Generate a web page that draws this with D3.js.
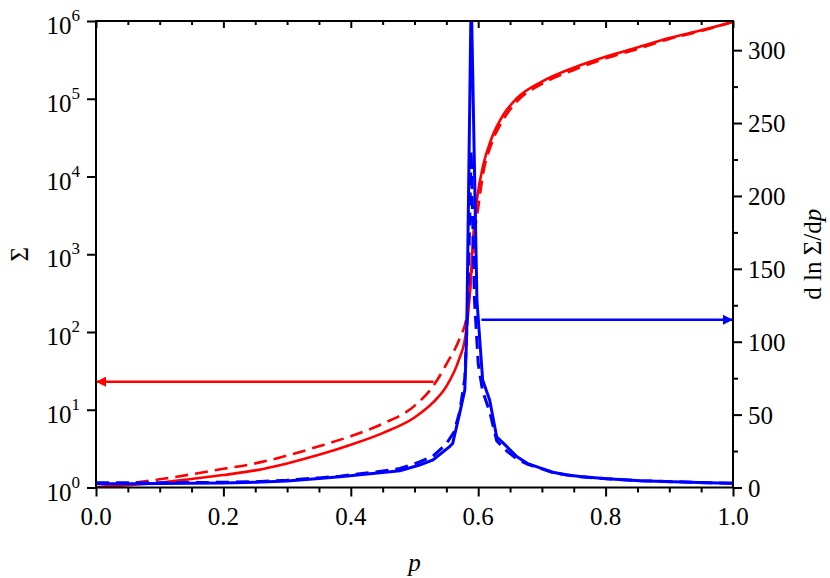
<!DOCTYPE html>
<html>
<head>
<meta charset="utf-8">
<script src="https://cdn.jsdelivr.net/npm/d3@7/dist/d3.min.js"></script>
<style>
  body { margin: 0; background: #fff; }
</style>
</head>
<body>
<div id="chart"></div>
<script>
// p values and Sigma (left, log) for the solid and dashed red curves
const redSolidP = [0, 0.05, 0.1, 0.15, 0.2, 0.25, 0.3, 0.35, 0.4, 0.45, 0.5, 0.53, 0.55, 0.57, 0.58, 0.587, 0.592, 0.598, 0.608, 0.62, 0.64, 0.66, 0.7, 0.75, 0.8, 0.85, 0.9, 0.95, 1.0];
const redSolidLog = [0, 0.03, 0.062, 0.11, 0.16, 0.22, 0.31, 0.42, 0.55, 0.70, 0.90, 1.1, 1.3, 1.65, 1.95, 2.5, 3.2, 3.7, 4.15, 4.47, 4.8, 5.0, 5.22, 5.4, 5.54, 5.66, 5.78, 5.88, 5.99];

const redDashP = [0, 0.05, 0.1, 0.15, 0.2, 0.25, 0.3, 0.35, 0.4, 0.45, 0.5, 0.529, 0.551, 0.571, 0.582, 0.59, 0.595, 0.6, 0.608, 0.62, 0.64, 0.66, 0.7, 0.75, 0.8, 0.85, 0.9, 0.95, 1.0];
const redDashLog = [0, 0.05, 0.105, 0.17, 0.24, 0.31, 0.41, 0.53, 0.66, 0.82, 1.05, 1.3, 1.6, 1.92, 2.2, 2.8, 3.3, 3.6, 4.05, 4.4, 4.74, 4.96, 5.19, 5.37, 5.52, 5.64, 5.77, 5.87, 5.99];

// p values and d ln Sigma / dp (right axis) for the blue curves
const blueSolidP = [0, 0.05, 0.1, 0.15, 0.2, 0.25, 0.3, 0.35, 0.383, 0.43, 0.462, 0.477, 0.508, 0.529, 0.555, 0.56, 0.571, 0.579, 0.582, 0.589, 0.598, 0.607, 0.618, 0.629, 0.645, 0.661, 0.677, 0.697, 0.717, 0.74, 0.76, 0.802, 0.854, 0.906, 0.959, 1.0];
const blueSolidV = [2.5, 2.6, 2.7, 2.9, 3.1, 3.6, 4.5, 6.2, 7.4, 9.5, 10.8, 11.5, 15.4, 18.9, 28, 30.3, 51, 67, 106, 340, 128.6, 73.7, 60, 34.8, 28, 21, 16.6, 13.5, 10.5, 8.6, 7.5, 6.0, 4.7, 4.0, 3.3, 2.9];

const blueDashP = [0, 0.05, 0.1, 0.15, 0.2, 0.25, 0.3, 0.35, 0.383, 0.43, 0.462, 0.477, 0.508, 0.529, 0.55, 0.562, 0.571, 0.579, 0.584, 0.589, 0.594, 0.6, 0.607, 0.618, 0.629, 0.645, 0.661, 0.677, 0.697, 0.717, 0.74, 0.76, 0.802, 0.854, 0.906, 0.959, 1.0];
const blueDashV = [3.2, 3.2, 3.3, 3.4, 3.6, 4.0, 5.0, 6.6, 7.8, 10.2, 12, 13, 17.5, 21.5, 30, 38, 52, 75, 130, 231, 130, 85, 66, 52, 32, 25, 19.5, 16, 13.2, 10.3, 8.5, 7.4, 6.0, 4.7, 4.0, 3.3, 2.9];

// arrows: [pStart, pEnd, value]
const redArrow = [0.53, 0, 23];
const blueArrow = [0.605, 1.0, 115];

const xTicks = [0, 0.2, 0.4, 0.6, 0.8, 1.0];
const leftTicks = [0, 1, 2, 3, 4, 5, 6]; // exponents
const rightTicks = [0, 50, 100, 150, 200, 250, 300];

const W = 830, H = 578;
const plot = { left: 96, right: 733, top: 21, bottom: 487.5 };
const FONT = "'Liberation Serif', 'Times New Roman', Times, serif";

const svg = d3.select("#chart").append("svg")
    .attr("width", W)
    .attr("height", H)
    .attr("font-family", FONT);

svg.append("rect").attr("width", W).attr("height", H).attr("fill", "#fff");

const x = d3.scaleLinear().domain([0, 1]).range([plot.left, plot.right]);
const yL = d3.scaleLog().domain([1, 1e6]).range([plot.bottom, plot.top]);
const yR = d3.scaleLinear().domain([0, 320]).range([plot.bottom, plot.top]);

const defs = svg.append("defs");
defs.append("clipPath").attr("id", "clip")
    .append("rect")
    .attr("x", plot.left).attr("y", plot.top)
    .attr("width", plot.right - plot.left).attr("height", plot.bottom - plot.top);

[["arrRed", "#ff0000"], ["arrBlue", "#0000ff"]].forEach(([id, c]) => {
    defs.append("marker")
        .attr("id", id)
        .attr("viewBox", "0 0 10 10")
        .attr("refX", 10).attr("refY", 5)
        .attr("markerUnits", "userSpaceOnUse")
        .attr("markerWidth", 14).attr("markerHeight", 10)
        .attr("orient", "auto")
        .append("path")
        .attr("d", "M0,0 L10,5 L0,10 Z")
        .attr("fill", c);
});

// axes
function styleAxis(g) {
    g.select(".domain").remove();
    g.selectAll(".tick line").attr("stroke", "#000").attr("stroke-width", 2);
    g.selectAll(".tick text").remove();
}

const xMinor = d3.range(0, 1.0001, 0.05).filter(v => Math.abs(v * 5 - Math.round(v * 5)) > 1e-6);

// bottom
svg.append("g").attr("transform", `translate(0,${plot.bottom})`)
    .call(d3.axisBottom(x).tickValues(xTicks).tickSize(9)).call(styleAxis);
svg.append("g").attr("transform", `translate(0,${plot.bottom})`)
    .call(d3.axisBottom(x).tickValues(xMinor).tickSize(5)).call(styleAxis);
// top (inward)
svg.append("g").attr("transform", `translate(0,${plot.top})`)
    .call(d3.axisBottom(x).tickValues(xTicks).tickSize(7)).call(styleAxis);
svg.append("g").attr("transform", `translate(0,${plot.top})`)
    .call(d3.axisBottom(x).tickValues(xMinor).tickSize(4)).call(styleAxis);
// left
svg.append("g").attr("transform", `translate(${plot.left},0)`)
    .call(d3.axisLeft(yL).tickValues(leftTicks.map(e => Math.pow(10, e))).tickSize(9)).call(styleAxis);
// right
svg.append("g").attr("transform", `translate(${plot.right},0)`)
    .call(d3.axisRight(yR).tickValues(rightTicks).tickSize(9)).call(styleAxis);
svg.append("g").attr("transform", `translate(${plot.right},0)`)
    .call(d3.axisRight(yR).tickValues(d3.range(25, 320, 50)).tickSize(5)).call(styleAxis);

// tick labels
svg.append("g").selectAll("text").data(xTicks).join("text")
    .attr("x", d => x(d)).attr("y", plot.bottom + 37)
    .attr("text-anchor", "middle").attr("font-size", 25)
    .text(d => d.toFixed(1));

const leftLab = svg.append("g").selectAll("text").data(leftTicks).join("text")
    .attr("x", plot.left - 16).attr("y", d => yL(Math.pow(10, d)) + 13)
    .attr("text-anchor", "end").attr("font-size", 25);
leftLab.append("tspan").text("10");
leftLab.append("tspan").attr("dy", -13).attr("font-size", 17).text(d => d);

svg.append("g").selectAll("text").data(rightTicks).join("text")
    .attr("x", plot.right + 15).attr("y", d => yR(d) + 9)
    .attr("font-size", 25)
    .text(d => d);

// axis titles
svg.append("text")
    .attr("x", x(0.5)).attr("y", 571)
    .attr("text-anchor", "middle").attr("font-size", 25).attr("font-style", "italic")
    .text("p");

svg.append("text")
    .attr("transform", `translate(28,${(plot.top + plot.bottom) / 2}) rotate(-90)`)
    .attr("text-anchor", "middle").attr("font-size", 25)
    .text("Σ");

const rt = svg.append("text")
    .attr("transform", `translate(821,${(plot.top + plot.bottom) / 2}) rotate(-90)`)
    .attr("text-anchor", "middle").attr("font-size", 25);
rt.append("tspan").text("d ln Σ/d");
rt.append("tspan").attr("font-style", "italic").text("p");

// curves
const g = svg.append("g").attr("clip-path", "url(#clip)");

const lineL = d3.line().x(d => x(d[0])).y(d => yL(d[1])).curve(d3.curveMonotoneX);
const lineR = d3.line().x(d => x(d[0])).y(d => yR(d[1]));

const zipLog = (ps, ls) => ps.map((p, i) => [p, Math.pow(10, ls[i])]);
const zip = (ps, vs) => ps.map((p, i) => [p, vs[i]]);

g.append("path").datum(zipLog(redDashP, redDashLog))
    .attr("d", lineL).attr("fill", "none")
    .attr("stroke", "#ff0000").attr("stroke-width", 2.6)
    .attr("stroke-dasharray", "13,7");
g.append("path").datum(zipLog(redSolidP, redSolidLog))
    .attr("d", lineL).attr("fill", "none")
    .attr("stroke", "#ff0000").attr("stroke-width", 2.6);

g.append("path").datum(zip(blueDashP, blueDashV))
    .attr("d", lineR).attr("fill", "none")
    .attr("stroke", "#0000ff").attr("stroke-width", 3)
    .attr("stroke-dasharray", "13,7");
g.append("path").datum(zip(blueSolidP, blueSolidV))
    .attr("d", lineR).attr("fill", "none")
    .attr("stroke", "#0000ff").attr("stroke-width", 3);

// arrows
svg.append("line")
    .attr("x1", x(redArrow[0])).attr("x2", x(redArrow[1]))
    .attr("y1", yL(redArrow[2])).attr("y2", yL(redArrow[2]))
    .attr("stroke", "#ff0000").attr("stroke-width", 2.5)
    .attr("marker-end", "url(#arrRed)");
svg.append("line")
    .attr("x1", x(blueArrow[0])).attr("x2", x(blueArrow[1]))
    .attr("y1", yR(blueArrow[2])).attr("y2", yR(blueArrow[2]))
    .attr("stroke", "#0000ff").attr("stroke-width", 2.5)
    .attr("marker-end", "url(#arrBlue)");

// frame
svg.append("rect")
    .attr("x", plot.left).attr("y", plot.top)
    .attr("width", plot.right - plot.left).attr("height", plot.bottom - plot.top)
    .attr("fill", "none").attr("stroke", "#000").attr("stroke-width", 2);
</script>
</body>
</html>
